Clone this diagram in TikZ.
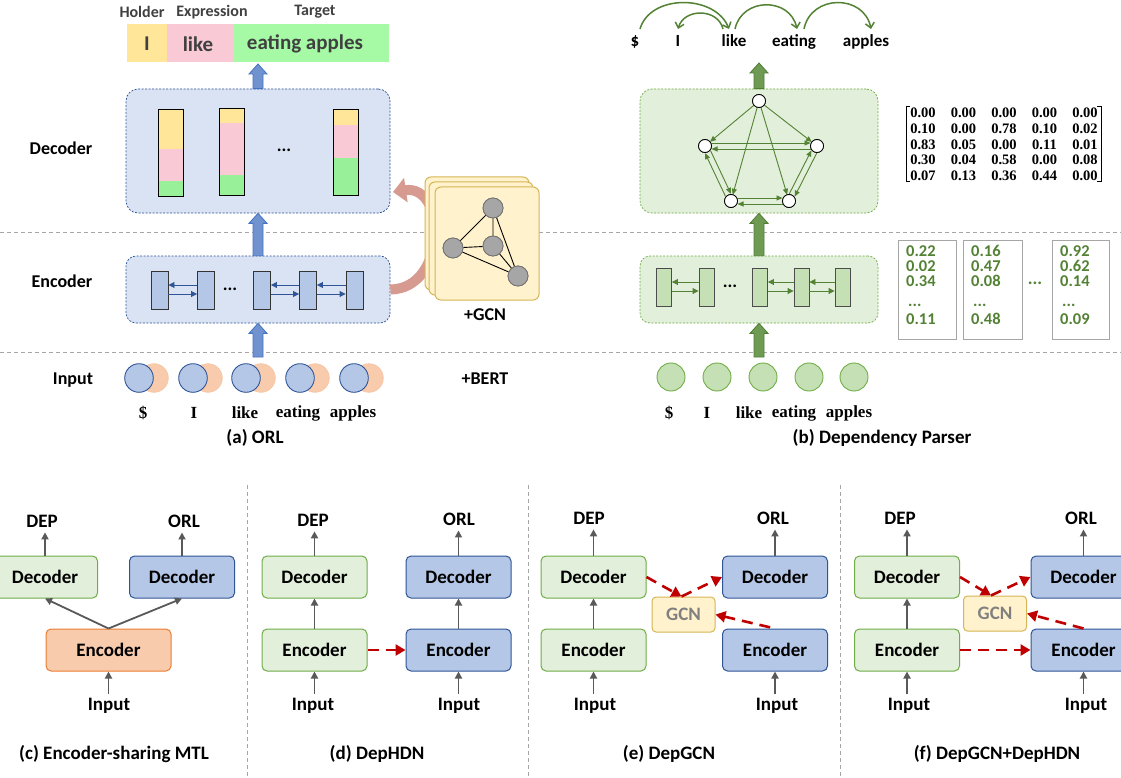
\documentclass[tikz,border=0pt]{standalone}
\usepackage{fontspec}
\newfontfamily\calib{Carlito}
\newfontfamily\tms{Liberation Serif}
\usetikzlibrary{arrows.meta,calc}
\newcommand\fsz[1]{\fontsize{#1}{#1}\selectfont}
\definecolor{gtxt}{HTML}{404040}
\definecolor{barY}{HTML}{FFE699}
\definecolor{barP}{HTML}{F9CAD5}
\definecolor{barG}{HTML}{A6FAA6}
\definecolor{barG2}{HTML}{98F098}
\definecolor{blueBg}{HTML}{DAE3F3}
\definecolor{blueBd}{HTML}{2F5597}
\definecolor{blueFill}{HTML}{B4C7E7}
\definecolor{blueArr}{HTML}{7092CF}
\definecolor{blueArrBd}{HTML}{4472C4}
\definecolor{orangeFill}{HTML}{F8CBAD}
\definecolor{orangeBd}{HTML}{ED7D31}
\definecolor{greenBg}{HTML}{E2EFDA}
\definecolor{greenBd}{HTML}{70AD47}
\definecolor{greenFill}{HTML}{C5E0B4}
\definecolor{greenDk}{HTML}{548235}
\definecolor{greenArr}{HTML}{6F9A54}
\definecolor{greenArrBd}{HTML}{507E32}
\definecolor{gcnFill}{HTML}{FFF2CC}
\definecolor{gcnBd}{HTML}{D6B656}
\definecolor{redD}{HTML}{C00000}
\definecolor{grayA}{HTML}{595959}
\definecolor{sepGray}{HTML}{A6A6A6}
\definecolor{pinkArr}{HTML}{D79A90}
\newcommand\varrow[4]{\path[fill=#3,draw=#4,line width=0.8pt] let \p1=(#1),\p2=(#2) in
  (\x1-5pt,\y1) -- (\x1-5pt,\y2-10pt) -- (\x1-9pt,\y2-10pt) -- (\x1,\y2) --
  (\x1+9pt,\y2-10pt) -- (\x1+5pt,\y2-10pt) -- (\x1+5pt,\y1) -- cycle;}
\newcommand\pedge[3]{\draw[gedge,shorten <=6.5pt,shorten >=6.5pt] ($(#1)!#3!90:(#2)$) -- ($(#2)!#3!-90:(#1)$);}
\begin{document}
\begin{tikzpicture}[x=1pt,y=-1pt,
  lab/.style={font=\calib\bfseries\fsz{18}, inner sep=0},
  lab19/.style={font=\calib\bfseries\fsz{19}, inner sep=0},
  word/.style={font=\tms\bfseries\fsz{17}, inner sep=0},
  box/.style={rounded corners=5, minimum width=105, minimum height=42, font=\calib\bfseries\fsz{19}, line width=1, inner sep=0},
  gbox/.style={box, fill=greenBg, draw=greenBd},
  bbox/.style={box, fill=blueFill, draw=blueBd},
  obox/.style={box, fill=orangeFill, draw=orangeBd},
  gcnbox/.style={rounded corners=4, fill=gcnFill, draw=gcnBd, minimum width=63, minimum height=35, font=\calib\bfseries\fsz{19}, text=black!50, line width=1, inner sep=0},
  garr/.style={draw=grayA, line width=1.8, -{Triangle[width=7pt,length=7pt]}},
  redarr/.style={draw=redD, line width=2.6, dash pattern=on 11pt off 7pt, -{Triangle[width=11pt,length=10pt]}},
  sep/.style={draw=sepGray, line width=1, dash pattern=on 4pt off 3pt},
  rectA/.style={draw=black!80, fill=blueFill, minimum width=17, minimum height=38, inner sep=0, line width=0.9},
  rectB/.style={draw=black!70, fill=greenFill, minimum width=15, minimum height=38, inner sep=0, line width=0.9},
  sarrA/.style={draw=blueBd, line width=0.9, -{Triangle[width=6pt,length=6pt]}},
  sarrB/.style={draw=greenDk, line width=0.9, -{Triangle[width=6pt,length=6pt]}},
  gedge/.style={draw=greenDk, line width=0.9, -{Triangle[width=5pt,length=6pt]}},
  gnode/.style={circle, draw=black, fill=white, minimum size=13, inner sep=0, line width=0.8},
  cnode/.style={circle, draw=black!55, fill=black!35, minimum size=20, inner sep=0, line width=0.8},
  dep/.style={draw=greenDk, line width=1.5, -{Straight Barb[length=5pt,width=9pt]}},
  mtx/.style={font=\tms\bfseries\fsz{14.5}, inner sep=0},
  vec/.style={font=\calib\bfseries\fsz{16.5}, text=greenDk, inner sep=0, anchor=west},
  card/.style={rounded corners=6, fill=gcnFill, draw=gcnBd, line width=1}
]
\useasboundingbox (0,0) rectangle (1121,778);
\fill[white] (0,0) rectangle (1121,778);

% separators
\draw[sep] (0,232) -- (1121,232);
\draw[sep] (0,352) -- (1121,352);
\draw[sep] (247,485) -- (247,778);
\draw[sep] (528,485) -- (528,778);
\draw[sep] (840,485) -- (840,778);

% left labels
\node[lab] (lDec) at (61,148) {Decoder};
\node[lab] (lEnc) at (62,281) {Encoder};
\node[lab] (lIn) at (73,380) {Input};

% ===== (a) ORL =====
\node[lab, font=\calib\bfseries\fsz{16}, text=gtxt] (hHolder) at (142,12) {Holder};
\node[lab, font=\calib\bfseries\fsz{16}, text=gtxt] (hExpr) at (212,12) {Expression};
\node[lab, font=\calib\bfseries\fsz{16}, text=gtxt] (hTarget) at (315,12) {Target};
\fill[barY] (127,24) rectangle (167,62);
\fill[barP] (167,24) rectangle (234,62);
\fill[barG] (234,24) rectangle (389,62);
\node[font=\calib\bfseries\fsz{21}, text=gtxt, inner sep=0] (oI) at (147,44) {I};
\node[font=\calib\bfseries\fsz{21}, text=gtxt, inner sep=0] (oLike) at (198,44) {like};
\node[font=\calib\bfseries\fsz{21}, text=gtxt, inner sep=0] (oEat) at (305,44) {eating apples};
\coordinate (barBot) at (258,64);

\node[draw=blueBd, dash pattern=on 2pt off 1.5pt, fill=blueBg, rounded corners=12, minimum width=264, minimum height=124, line width=0.7, inner sep=0] (decA) at (258,151) {};
% decoder bars
\foreach \x/\a/\b/\c/\d in {158/110/149/181/197, 219/109/123/175/196, 333/110/125/158/196}{
  \fill[barY] (\x,\a) rectangle (\x+25,\b);
  \fill[barP] (\x,\b) rectangle (\x+25,\c);
  \fill[barG2] (\x,\c) rectangle (\x+25,\d);
  \draw[black, line width=1] (\x,\a) rectangle (\x+25,\d);
}
\node[font=\calib\bfseries\fsz{18}, inner sep=0] (dotsDA) at (284,150) {...};

\node[draw=blueBd, dash pattern=on 2pt off 1.5pt, fill=blueBg, rounded corners=10, minimum width=264, minimum height=67, line width=0.7, inner sep=0] (encA) at (258,289.5) {};
\node[rectA] (a1) at (159.5,290) {};
\node[rectA] (a2) at (206,290) {};
\node[rectA] (a3) at (262,290) {};
\node[rectA] (a4) at (308,290) {};
\node[rectA] (a5) at (354.5,290) {};
\node[font=\calib\bfseries\fsz{18}, inner sep=0] (dotsEA) at (230,289) {...};
\foreach \p/\q in {a1/a2,a3/a4,a4/a5}{
  \draw[sarrA] ([yshift=5pt]\q.west) -- ([yshift=5pt]\p.east);
  \draw[sarrA] ([yshift=-4pt]\p.east) -- ([yshift=-4pt]\q.west);
}

% pink arrow to decoder (behind GCN cards)
\coordinate (pinkEnd) at (393,192);
\draw[pinkArr, line width=10pt, -{Triangle[width=24pt,length=13pt]}] (encA.east) .. controls (447,289) and (447,184) .. (pinkEnd);

% GCN cards
\draw[card] (425,177) rectangle (529,290);
\draw[card] (429,182) rectangle (533,295);
\node[card, minimum width=104, minimum height=113, inner sep=0] (gcnA) at (487,243.5) {};
\node[cnode] (c1) at (493,208) {};
\node[cnode] (c2) at (453,248) {};
\node[cnode] (c3) at (493,246) {};
\node[cnode] (c4) at (518,276) {};
\draw[black, line width=0.9] (c1) -- (c2) (c1) -- (c3) (c1) -- (c4) (c2) -- (c3) (c2) -- (c4) (c3) -- (c4);
\node[cnode] at (c1) {};
\node[cnode] at (c2) {};
\node[cnode] at (c3) {};
\node[cnode] at (c4) {};
\node[lab] (pGCN) at (485,315) {+GCN};
\node[lab] (pBERT) at (485,379) {+BERT};

% block arrows (a)
\varrow{decA.north}{barBot}{blueArr}{blueArrBd}
\varrow{encA.north}{decA.south}{blueArr}{blueArrBd}
\coordinate (inA) at (258,357);
\varrow{inA}{encA.south}{blueArr}{blueArrBd}

% input circles (a)
\foreach \x [count=\i] in {139,193,246,300,354}{
  \node[circle, fill=orangeFill, draw=orangeFill!90!orangeBd, minimum size=28.6, inner sep=0, line width=0.6] (oc\i) at (\x+15,378) {};
  \node[circle, fill=blueFill, draw=blueBd, minimum size=28.6, inner sep=0, line width=0.9] (bc\i) at (\x,378) {};
}
\node[word] (wa1) at (143,413) {\$};
\node[word] (wa2) at (194,413) {I};
\node[word] (wa3) at (245,413) {like};
\node[word] (wa4) at (298,413) {eating};
\node[word] (wa5) at (353,413) {apples};
\node[lab19] (capA) at (255,438) {(a) ORL};

% ===== (b) Dependency parser =====
\node[font=\calib\bfseries\fsz{17}, inner sep=0, anchor=base] (tw1) at (635,47) {\$};
\node[font=\calib\bfseries\fsz{17}, inner sep=0, anchor=base] (tw2) at (678,47) {I};
\node[font=\calib\bfseries\fsz{17}, inner sep=0, anchor=base] (tw3) at (734,47) {like};
\node[font=\calib\bfseries\fsz{17}, inner sep=0, anchor=base] (tw4) at (794,47) {eating};
\node[font=\calib\bfseries\fsz{17}, inner sep=0, anchor=base] (tw5) at (866,47) {apples};
\draw[dep] ($(tw1.base)+(5,-18)$) .. controls ($(tw1.base)+(15,-53)$) and ($(tw3.base)+(-19,-53)$) .. ($(tw3.base)+(-5,-18)$);
\draw[dep] ($(tw3.base)+(-11,-18)$) .. controls ($(tw3.base)+(-16,-39)$) and ($(tw2.base)+(6,-39)$) .. ($(tw2.base)+(0,-18)$);
\draw[dep] ($(tw3.base)+(1,-18)$) .. controls ($(tw3.base)+(8,-50)$) and ($(tw4.base)+(-4,-50)$) .. ($(tw4.base)+(3,-18)$);
\draw[dep] ($(tw4.base)+(10,-18)$) .. controls ($(tw4.base)+(17,-53)$) and ($(tw5.base)+(-2,-53)$) .. ($(tw5.base)+(5,-18)$);
\coordinate (wordBot) at (759,63);

\node[draw=greenBd, dash pattern=on 2pt off 1.5pt, fill=greenBg, rounded corners=12, minimum width=238, minimum height=124, line width=0.7, inner sep=0] (decB) at (759,151) {};
\node[gnode] (gt) at (759,101) {};
\node[gnode] (gl) at (705,146) {};
\node[gnode] (gr) at (817,146) {};
\node[gnode] (gbl) at (731,201) {};
\node[gnode] (gbr) at (789,201) {};
\draw[gedge,shorten <=6.5pt,shorten >=6.5pt] (gt.center) -- (gl.center);
\draw[gedge,shorten <=6.5pt,shorten >=6.5pt] (gt.center) -- (gr.center);
\draw[gedge,shorten <=6.5pt,shorten >=6.5pt] (gt.center) -- (gbl.center);
\draw[gedge,shorten <=6.5pt,shorten >=6.5pt] (gt.center) -- (gbr.center);
\pedge{gl}{gr}{3pt}
\pedge{gr}{gl}{3pt}
\pedge{gl}{gbl}{3pt}
\pedge{gbl}{gl}{3pt}
\pedge{gr}{gbr}{3pt}
\pedge{gbr}{gr}{3pt}
\pedge{gbl}{gbr}{3pt}
\pedge{gbr}{gbl}{3pt}
\node[gnode] at (gt) {};
\node[gnode] at (gl) {};
\node[gnode] at (gr) {};
\node[gnode] at (gbl) {};
\node[gnode] at (gbr) {};

% matrix
\draw[black, line width=0.8] (910,106) -- (906,106) -- (906,181) -- (910,181);
\draw[black, line width=0.8] (1097,106) -- (1101,106) -- (1101,181) -- (1097,181);
\foreach \r/\vals [count=\i] in {113/{0.00,0.00,0.00,0.00,0.00},129/{0.10,0.00,0.78,0.10,0.02},144.5/{0.83,0.05,0.00,0.11,0.01},160/{0.30,0.04,0.58,0.00,0.08},176/{0.07,0.13,0.36,0.44,0.00}}{
  \foreach \v [count=\j] in \vals {
    \node[mtx] (m\i\j) at ({923+40.5*(\j-1)},\r) {\v};
  }
}

\node[draw=greenBd, dash pattern=on 2pt off 1.5pt, fill=greenBg, rounded corners=10, minimum width=238, minimum height=67, line width=0.7, inner sep=0] (encB) at (759,289.5) {};
\node[rectB] (b1) at (664,287) {};
\node[rectB] (b2) at (706.5,287) {};
\node[rectB] (b3) at (760,287) {};
\node[rectB] (b4) at (801.5,287) {};
\node[rectB] (b5) at (842.5,287) {};
\node[font=\calib\bfseries\fsz{18}, inner sep=0] (dotsEB) at (730,286) {...};
\foreach \p/\q in {b1/b2,b3/b4,b4/b5}{
  \draw[sarrB] ([yshift=5pt]\q.west) -- ([yshift=5pt]\p.east);
  \draw[sarrB] ([yshift=-4pt]\p.east) -- ([yshift=-4pt]\q.west);
}
\varrow{decB.north}{wordBot}{greenArr}{greenArrBd}
\varrow{encB.north}{decB.south}{greenArr}{greenArrBd}
\coordinate (inB) at (759,357);
\varrow{inB}{encB.south}{greenArr}{greenArrBd}

% vectors
\draw[black!35, line width=1] (898,240) rectangle (956,339);
\draw[black!35, line width=1] (963,240) rectangle (1022,339);
\draw[black!35, line width=1] (1052,240) rectangle (1109,339);
\foreach \x/\a/\b/\c/\d [count=\k] in {906/0.22/0.02/0.34/0.11, 971/0.16/0.47/0.08/0.48, 1060/0.92/0.62/0.14/0.09}{
  \node[vec] (v\k a) at (\x,251) {\a};
  \node[vec] (v\k b) at (\x,266) {\b};
  \node[vec] (v\k c) at (\x,281) {\c};
  \node[vec] (v\k d) at (\x+2,305) {...};
  \node[vec] (v\k e) at (\x,319) {\d};
}
\node[font=\calib\bfseries\fsz{18}, text=greenDk, inner sep=0] (vdots) at (1035,283) {...};

% green circles
\foreach \x [count=\i] in {671,717,763,809,854}{
  \node[circle, fill=greenFill, draw=greenBd, minimum size=28, inner sep=0, line width=0.9] (gc\i) at (\x,377) {};
}
\node[word] (wb1) at (669,413) {\$};
\node[word] (wb2) at (707,413) {I};
\node[word] (wb3) at (749,413) {like};
\node[word] (wb4) at (794,413) {eating};
\node[word] (wb5) at (849,413) {apples};
\node[lab19] (capB) at (882,438) {(b) Dependency Parser};

% ===== (c) =====
\node[gbox] (decGc) at (45,577) {Decoder};
\node[bbox] (decBc) at (182,577) {Decoder};
\node[obox, minimum width=125] (encOc) at (108.5,650) {Encoder};
\node[lab19] (depC) at (42,521) {DEP};
\node[lab19] (orlC) at (184,521) {ORL};
\node[lab19] (inpC) at (109,706) {Input};
\draw[garr, shorten >=5pt] (decGc.north) -- (decGc.north |- depC.south);
\draw[garr, shorten >=5pt] (decBc.north) -- (decBc.north |- orlC.south);
\draw[garr, shorten <=4pt] (encOc.south |- inpC.north) -- (encOc.south);
\draw[garr] (encOc.north) -- (decGc.south);
\draw[garr] (encOc.north) -- (decBc.south);
\node[lab19] (capC) at (114,754) {(c) Encoder-sharing MTL};

% ===== (d) =====
\node[gbox] (decGd) at (314.5,577) {Decoder};
\node[bbox] (decBd) at (458.5,577) {Decoder};
\node[gbox] (encGd) at (314.5,650) {Encoder};
\node[bbox] (encBd) at (458.5,650) {Encoder};
\node[lab19] (depD) at (313,520) {DEP};
\node[lab19] (orlD) at (459,519) {ORL};
\node[lab19] (inpD1) at (313,706) {Input};
\node[lab19] (inpD2) at (459,706) {Input};
\draw[garr, shorten >=5pt] (decGd.north) -- (decGd.north |- depD.south);
\draw[garr, shorten >=5pt] (decBd.north) -- (decBd.north |- orlD.south);
\draw[garr] (encGd.north) -- (decGd.south);
\draw[garr] (encBd.north) -- (decBd.south);
\draw[garr, shorten <=4pt] (encGd.south |- inpD1.north) -- (encGd.south);
\draw[garr, shorten <=4pt] (encBd.south |- inpD2.north) -- (encBd.south);
\draw[redarr] (encGd.east) -- (encBd.west);
\node[lab19] (capD) at (377,754) {(d) DepHDN};

% ===== (e) =====
\node[gbox] (decGe) at (593.5,577) {Decoder};
\node[gbox] (encGe) at (593.5,650) {Encoder};
\node[bbox] (decBe) at (775,577) {Decoder};
\node[bbox] (encBe) at (775,650) {Encoder};
\node[gcnbox] (gcnE) at (683.5,614.5) {GCN};
\node[lab19] (depE) at (589,518) {DEP};
\node[lab19] (orlE) at (773,518) {ORL};
\node[lab19] (inpE1) at (595,706) {Input};
\node[lab19] (inpE2) at (777,706) {Input};
\draw[garr, shorten >=5pt] (decGe.north) -- (decGe.north |- depE.south);
\draw[garr, shorten >=5pt] (decBe.north) -- (decBe.north |- orlE.south);
\draw[garr] (encGe.north) -- (decGe.south);
\draw[garr, shorten <=4pt] (encGe.south |- inpE1.north) -- (encGe.south);
\draw[garr, shorten <=4pt] (encBe.south |- inpE2.north) -- (encBe.south);
\draw[redarr] (decGe.east) -- ([xshift=-2pt]gcnE.north);
\draw[redarr] ([xshift=-2pt]gcnE.north) -- (decBe.west);
\draw[redarr, shorten <=5pt] (encBe.north) -- (gcnE.east);
\node[lab19] (capE) at (669,754) {(e) DepGCN};

% ===== (f) =====
\node[gbox] (decGf) at (907,577) {Decoder};
\node[gbox] (encGf) at (907,650) {Encoder};
\node[bbox] (decBf) at (1083.5,577) {Decoder};
\node[bbox] (encBf) at (1083.5,650) {Encoder};
\node[gcnbox] (gcnF) at (995,613.5) {GCN};
\node[lab19] (depF) at (900,518) {DEP};
\node[lab19] (orlF) at (1081,518) {ORL};
\node[lab19] (inpF1) at (909,706) {Input};
\node[lab19] (inpF2) at (1086,706) {Input};
\draw[garr, shorten >=5pt] (decGf.north) -- (decGf.north |- depF.south);
\draw[garr, shorten >=5pt] (decBf.north) -- (decBf.north |- orlF.south);
\draw[garr] (encGf.north) -- (decGf.south);
\draw[garr, shorten <=4pt] (encGf.south |- inpF1.north) -- (encGf.south);
\draw[garr, shorten <=4pt] (encBf.south |- inpF2.north) -- (encBf.south);
\draw[redarr] (decGf.east) -- ([xshift=-4pt]gcnF.north);
\draw[redarr] ([xshift=-4pt]gcnF.north) -- (decBf.west);
\draw[redarr] (encBf.north) -- (gcnF.east);
\draw[redarr] (encGf.east) -- (encBf.west);
\node[lab19] (capF) at (997,754) {(f) DepGCN+DepHDN};
\end{tikzpicture}
\end{document}
